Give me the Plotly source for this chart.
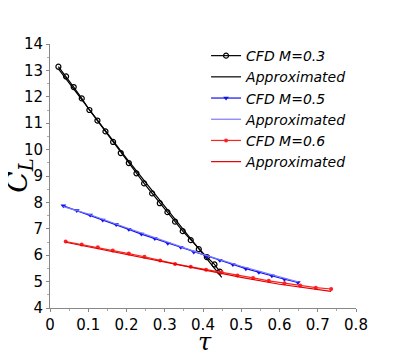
import plotly.graph_objects as go

# CFD, M=0.3 (open circles)
tau_m03 = [0.022, 0.042, 0.062, 0.083, 0.103, 0.124, 0.145, 0.165, 0.185, 0.206,
           0.226, 0.246, 0.267, 0.287, 0.307, 0.327, 0.347, 0.368, 0.389, 0.410,
           0.430, 0.444]
cl_m03 = [13.14, 12.77, 12.37, 11.94, 11.50, 11.10, 10.69, 10.29, 9.87, 9.49,
          9.10, 8.72, 8.34, 7.97, 7.63, 7.27, 6.91, 6.57, 6.23, 5.93,
          5.65, 5.38]
tau_m03_fit = [0.022, 0.100, 0.200, 0.300, 0.390, 0.449]
cl_m03_fit = [13.06, 11.56, 9.67, 7.85, 6.22, 5.16]

# CFD, M=0.5 (triangles)
tau_m05 = [0.035, 0.070, 0.105, 0.138, 0.173, 0.206, 0.239, 0.274, 0.308, 0.342,
           0.376, 0.410, 0.444, 0.478, 0.512, 0.546, 0.580, 0.613, 0.648]
cl_m05 = [7.87, 7.69, 7.52, 7.33, 7.16, 6.98, 6.80, 6.63, 6.45, 6.30,
          6.12, 5.96, 5.81, 5.65, 5.49, 5.35, 5.22, 5.09, 4.97]
tau_m05_fit = [0.035, 0.100, 0.200, 0.300, 0.400, 0.500, 0.600, 0.648]
cl_m05_fit = [7.84, 7.56, 7.04, 6.54, 6.03, 5.58, 5.17, 4.99]

# CFD, M=0.6 (dots)
tau_m06 = [0.041, 0.083, 0.125, 0.164, 0.206, 0.247, 0.288, 0.327, 0.368, 0.408,
           0.449, 0.490, 0.531, 0.572, 0.613, 0.654, 0.695, 0.735]
cl_m06 = [6.52, 6.41, 6.30, 6.18, 6.06, 5.94, 5.80, 5.67, 5.56, 5.45,
          5.35, 5.23, 5.14, 5.03, 4.94, 4.85, 4.77, 4.72]
tau_m06_fit = [0.041, 0.100, 0.200, 0.300, 0.400, 0.500, 0.600, 0.735]
cl_m06_fit = [6.49, 6.32, 6.03, 5.73, 5.44, 5.16, 4.90, 4.63]

x_ticks = [0, 0.1, 0.2, 0.3, 0.4, 0.5, 0.6, 0.7, 0.8]
x_labels = ["0", "0.1", "0.2", "0.3", "0.4", "0.5", "0.6", "0.7", "0.8"]
y_ticks = [4, 5, 6, 7, 8, 9, 10, 11, 12, 13, 14]

FONT = "DejaVu Sans"

fig = go.Figure()

series = [
    ("CFD M=0.3", tau_m03, cl_m03, "black", dict(symbol="circle-open", size=5, color="black", line=dict(width=1.2))),
    ("Approximated", tau_m03_fit, cl_m03_fit, "black", None),
    ("CFD M=0.5", tau_m05, cl_m05, "#1010ee", dict(symbol="triangle-down", size=5, color="#1010ee")),
    ("Approximated", tau_m05_fit, cl_m05_fit, "#7a7aff", None),
    ("CFD M=0.6", tau_m06, cl_m06, "#ff2020", dict(symbol="circle", size=4, color="#ff2020")),
    ("Approximated", tau_m06_fit, cl_m06_fit, "#e00000", None),
]

for name, x, y, color, marker in series:
    fig.add_trace(go.Scatter(
        x=x, y=y,
        mode="lines+markers" if marker else "lines",
        name=f"<i>{name}</i>",
        line=dict(color=color, width=1.2),
        marker=marker,
    ))

axis_common = dict(
    showgrid=False, zeroline=False, automargin=False,
    showline=True, linecolor="#888", linewidth=1,
    ticks="outside", ticklen=3, tickcolor="#888",
    tickfont=dict(family=FONT, size=15, color="black"),
    mirror=False,
)

fig.update_xaxes(
    range=[0, 0.8], tickmode="array", tickvals=x_ticks, ticktext=x_labels, tickangle=0,
    minor=dict(dtick=0.05, ticks="outside", ticklen=2, tickcolor="#aaa"),
    **axis_common,
)
fig.update_yaxes(
    range=[4, 14], tickmode="array", tickvals=y_ticks,
    minor=dict(dtick=0.5, ticks="outside", ticklen=2, tickcolor="#aaa"),
    **axis_common,
)

# axis titles placed by hand, as in the original they sit close to the ticks
fig.add_annotation(
    text="<i>C</i><sub><i>L</i></sub>", xref="paper", yref="paper",
    x=-0.035, y=0.5, xanchor="right", yanchor="middle", textangle=-90,
    showarrow=False, font=dict(family="DejaVu Serif", size=28, color="black"),
)
fig.add_annotation(
    text="<i>τ</i>", xref="paper", yref="paper",
    x=0.507, y=-0.07, xanchor="center", yanchor="top",
    showarrow=False, font=dict(family="DejaVu Serif", size=24, color="black"),
)

# the page body adds an 8px margin, so the figure is drawn 8px smaller
fig.update_layout(
    width=399, height=345,
    template="plotly_white",
    paper_bgcolor="white", plot_bgcolor="white",
    margin=dict(l=42, r=51, t=36, b=45),
    showlegend=True,
    legend=dict(
        x=0.51, y=1.015, xanchor="left", yanchor="top",
        font=dict(family=FONT, size=14, color="black"),
        bgcolor="rgba(0,0,0,0)",
        itemwidth=30, tracegroupgap=0,
    ),
)

fig.write_html("out.html")
